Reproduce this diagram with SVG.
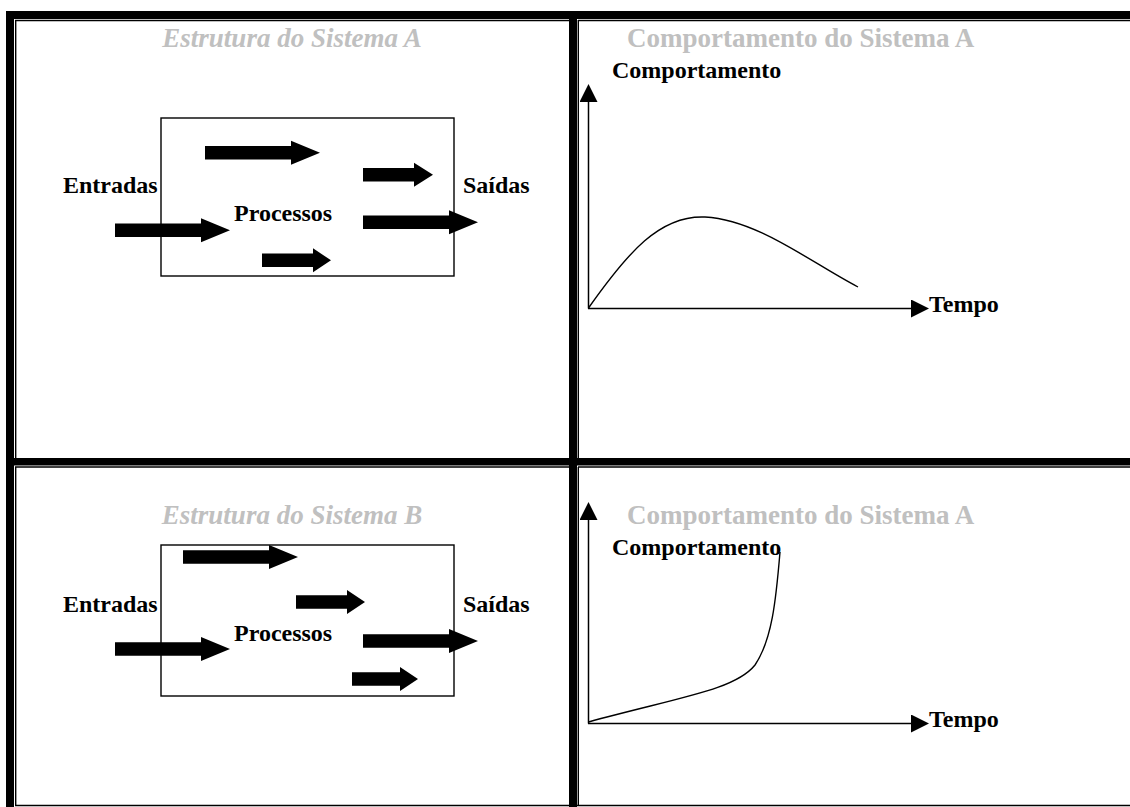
<svg xmlns="http://www.w3.org/2000/svg" width="1130" height="807" viewBox="0 0 1130 807">
  <style>
    .title { font-family: "Liberation Serif", "Times New Roman", serif; font-size: 27px; font-weight: bold; fill: #c0c0c0; }
    .label { font-family: "Liberation Serif", "Times New Roman", serif; font-size: 24px; font-weight: bold; fill: #000; }
    .thick { fill: #000; }
    .thin { stroke: #000; stroke-width: 1.4; fill: none; }
    .box { fill: none; stroke: #000; stroke-width: 1.4; }
    .flow { fill: #000; }
    .axis { stroke: #000; stroke-width: 1.5; fill: none; }
    .curve { stroke: #000; stroke-width: 1.4; fill: none; }
  </style>
  <defs>
    <marker id="axisHead" markerWidth="18" markerHeight="18" refX="0" refY="9" orient="auto" markerUnits="userSpaceOnUse">
      <path d="M0,0 L18,9 L0,18 Z" fill="#000"/>
    </marker>
  </defs>
  <rect width="1130" height="807" fill="#fff"/>

  <!-- table grid: thick-thin borders -->
  <g id="grid">
    <rect class="thick" x="6" y="11" width="8" height="796"/>
    <rect class="thick" x="6" y="11" width="1124" height="8"/>
    <rect class="thick" x="569" y="11" width="8" height="796"/>
    <rect class="thick" x="6" y="458" width="1124" height="7.5"/>
    <path class="thin" d="M15,20.5 H569 M578,20.5 H1130 M15.7,20 V458 M15.7,467 V806 M578.3,20 V458 M578.3,467 V806 M15,467 H569 M578,467 H1130 M15,805.5 H1130"/>
  </g>

  <!-- cell 1: structure of system A -->
  <g id="estrutura-a">
    <text class="title" x="292" y="47" text-anchor="middle" font-style="italic">Estrutura do Sistema A</text>
    <rect class="box" x="161" y="118" width="293" height="158"/>
    <text class="label" x="63" y="193">Entradas</text>
    <text class="label" x="463" y="193">Saídas</text>
    <text class="label" x="234" y="221">Processos</text>
    <g id="fluxos-a">
      <polygon class="flow" points="205,146 291,146 291,140.7 320,152.7 291,164.7 291,159.4 205,159.4"/>
      <polygon class="flow" points="363,168 414,168 414,162.7 433,174.7 414,186.7 414,181.4 363,181.4"/>
      <polygon class="flow" points="115,223.6 201,223.6 201,218.3 230,230.3 201,242.3 201,237 115,237"/>
      <polygon class="flow" points="363,215.6 449,215.6 449,210.3 478,222.3 449,234.3 449,229 363,229"/>
      <polygon class="flow" points="262,253.6 313,253.6 313,248.3 331,260.3 313,272.3 313,267 262,267"/>
    </g>
  </g>

  <!-- cell 2: behaviour of system A -->
  <g id="comportamento-a">
    <text class="title" x="627" y="47">Comportamento do Sistema A</text>
    <text class="label" x="612" y="78">Comportamento</text>
    <text class="label" x="929" y="312">Tempo</text>
    <g id="eixos-a">
      <line class="axis" x1="588.5" y1="308.5" x2="588.5" y2="102" marker-end="url(#axisHead)"/>
      <line class="axis" x1="588" y1="308.5" x2="911" y2="308.5" marker-end="url(#axisHead)"/>
    </g>
    <path class="curve" d="M588.5,308 C628,252 660,215 705,217 C758,220 810,262 858,287"/>
  </g>

  <!-- cell 3: structure of system B -->
  <g id="estrutura-b">
    <text class="title" x="292" y="524" text-anchor="middle" font-style="italic">Estrutura do Sistema B</text>
    <rect class="box" x="161" y="545" width="293" height="151"/>
    <text class="label" x="63" y="612">Entradas</text>
    <text class="label" x="463" y="612">Saídas</text>
    <text class="label" x="234" y="641">Processos</text>
    <g id="fluxos-b">
      <polygon class="flow" points="183,550.3 269,550.3 269,545 298,557 269,569 269,563.7 183,563.7"/>
      <polygon class="flow" points="296,595.3 347,595.3 347,590 365,602 347,614 347,608.7 296,608.7"/>
      <polygon class="flow" points="115,642.3 201,642.3 201,637 230,649 201,661 201,655.7 115,655.7"/>
      <polygon class="flow" points="363,634.3 449,634.3 449,629 478,641 449,653 449,647.7 363,647.7"/>
      <polygon class="flow" points="352,672.3 400,672.3 400,667 418,679 400,691 400,685.7 352,685.7"/>
    </g>
  </g>

  <!-- cell 4: behaviour chart (lower row) -->
  <g id="comportamento-b">
    <text class="title" x="627" y="524">Comportamento do Sistema A</text>
    <text class="label" x="612" y="555">Comportamento</text>
    <text class="label" x="929" y="727">Tempo</text>
    <g id="eixos-b">
      <line class="axis" x1="588.5" y1="723.5" x2="588.5" y2="520" marker-end="url(#axisHead)"/>
      <line class="axis" x1="588" y1="723.5" x2="911" y2="723.5" marker-end="url(#axisHead)"/>
    </g>
    <path class="curve" d="M588.5,722 C680,697 735,690 755,665 C772,640 776,600 780,552"/>
  </g>
</svg>
